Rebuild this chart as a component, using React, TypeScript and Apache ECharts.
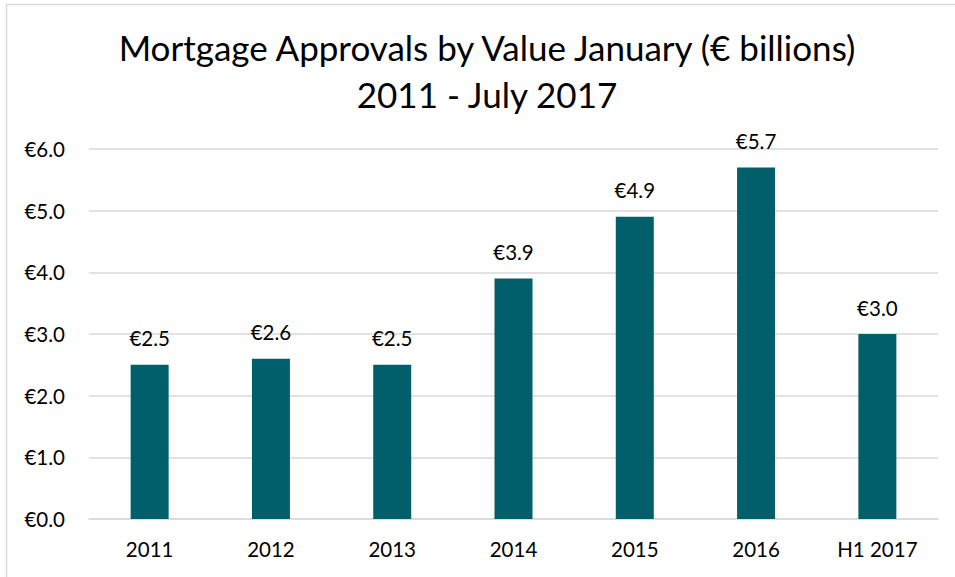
import React, { useEffect, useRef } from "react";
import * as echarts from "echarts";

const categories = ["2011", "2012", "2013", "2014", "2015", "2016", "H1 2017"];
const values = [2.5, 2.6, 2.5, 3.9, 4.9, 5.7, 3.0];
const titleLines = ["Mortgage Approvals by Value January (€ billions)", "2011 - July 2017"];

const FONT = "Lato";

export default function App() {
  const ref = useRef<HTMLDivElement>(null);
  useEffect(() => {
    document.body.style.margin = "0";
    const chart = echarts.init(ref.current!, null, { renderer: "svg" });
    chart.setOption({
      animation: false,
      backgroundColor: "#ffffff",
      textStyle: { fontFamily: FONT },
      graphic: [
        {
          type: "rect",
          shape: { x: 6.5, y: 4.5, width: 1200, height: 1200 },
          style: { fill: "none", stroke: "#d9d9d9", lineWidth: 1.5 },
          silent: true,
        },
        {
          type: "text",
          x: 487,
          y: 24,
          silent: true,
          style: {
            text: titleLines.join("\n"),
            fontFamily: FONT,
            fontSize: 35,
            fontWeight: "normal",
            fill: "#000000",
            lineHeight: 46.5,
            align: "center",
            verticalAlign: "top",
          },
        },
      ],
      grid: { left: 89, right: 17, top: 149, bottom: 58, containLabel: false },
      xAxis: {
        type: "category",
        data: categories,
        axisLine: { show: true, lineStyle: { color: "#d9d9d9", width: 1.5 } },
        axisTick: { show: false },
        axisLabel: { fontFamily: FONT, fontSize: 20.5, color: "#000000", margin: 19 },
      },
      yAxis: {
        type: "value",
        min: 0,
        max: 6,
        interval: 1,
        axisLine: { show: false },
        axisTick: { show: false },
        splitLine: { lineStyle: { color: "#d9d9d9", width: 1.5 } },
        axisLabel: {
          fontFamily: FONT,
          fontSize: 20.5,
          color: "#000000",
          margin: 24,
          formatter: (v: number) => "€" + v.toFixed(1),
        },
      },
      series: [
        {
          type: "bar",
          data: values,
          barWidth: 38,
          itemStyle: { color: "#005f6b" },
          label: {
            show: true,
            position: "top",
            distance: 16,
            fontFamily: FONT,
            fontSize: 20.5,
            color: "#000000",
            formatter: (p: any) => "€" + Number(p.value).toFixed(1),
          },
        },
      ],
    });
    return () => chart.dispose();
  }, []);
  return <div ref={ref} style={{ width: 955, height: 577 }} />;
}
